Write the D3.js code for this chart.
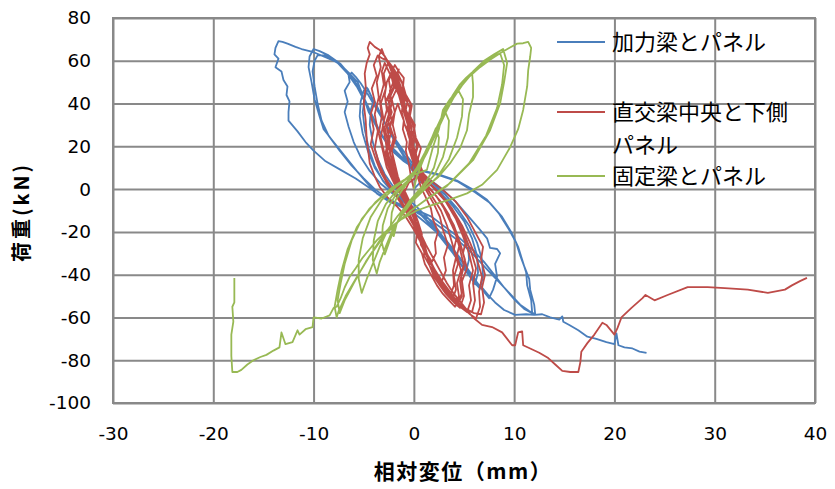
<!DOCTYPE html>
<html>
<head>
<meta charset="utf-8">
<script src="https://cdn.jsdelivr.net/npm/d3@7"></script>
<style>
  body { margin: 0; background: #fff; }
</style>
</head>
<body>
<div id="chart-area"></div>
<script>
// axis ticks
const xTicks = [-30, -20, -10, 0, 10, 20, 30, 40];
const yTicks = [-100, -80, -60, -40, -20, 0, 20, 40, 60, 80];
const seriesNames = ["加力梁とパネル", "直交梁中央と下側パネル", "固定梁とパネル"];

// 加力梁とパネル  [displacement mm, load kN]
const blueData = [
  [0,0],[0.8,4],
  [-0.2,9],[-1.1,16],[-2.0,23],[-2.7,29],[-3.3,35],[-3.8,40],[-4.0,41.5],[-4.3,37],[-4.4,30],[-4.1,22],[-3.6,14],[-2.9,7],[-2.1,1.5],[-1.1,-3],
  [0.1,-7.5],[1.3,-13],[2.4,-19],[3.3,-25],[4.1,-31],[4.8,-36],[5.2,-38.5],[5.5,-33],[5.4,-26],[4.9,-19],[4.1,-12],[3.1,-5],[2.0,0.5],[0.9,5],
  [-0.2,10],[-1.1,16],[-2.0,23],[-2.8,30],[-3.5,36],[-4.0,41],[-4.4,45],[-4.6,47],[-4.9,43],[-5.1,36],[-4.9,28],[-4.5,19],[-3.9,11],[-3.1,4],[-2.1,-1.5],[-0.8,-6],
  [0.6,-11.5],[1.8,-17.5],[2.9,-24],[3.9,-30],[4.8,-36],[5.6,-41],[6.1,-44.5],[6.4,-39],[6.3,-31],[5.8,-23],[5.0,-15],[3.9,-8],[2.6,-1.5],[1.3,4],
  [0.1,9],[-1.0,16],[-2.0,24],[-2.9,31],[-3.7,38],[-4.2,43],[-4.7,47.5],[-5.0,46],[-5.3,41],[-5.4,34],[-5.1,26],[-4.6,18],[-3.9,10],[-3.0,3.5],[-1.9,-1.5],[-0.6,-6.5],
  [0.8,-12],[2.0,-18.5],[3.1,-25],[4.1,-31],[5.0,-37],[5.9,-43],[6.6,-46.5],[6.9,-41],[6.8,-33],[6.3,-25],[5.5,-17],[4.4,-9.5],[3.1,-2.5],[1.8,3],
  [0.5,8],[-0.6,15],[-1.8,23],[-2.9,31],[-3.8,38],[-4.6,44.5],[-5.3,49.5],[-5.8,52.5],[-6.2,54.5],[-6.5,53],[-6.4,50],[-6.9,46],[-6.6,41],[-6.9,36],[-6.5,29],[-6.0,22],[-5.3,15],[-4.4,8.5],[-3.3,2.5],[-2.0,-2.5],[-0.6,-7.5],
  [0.8,-12.5],[2.2,-18.5],[3.4,-25],[4.5,-31.5],[5.4,-37.5],[6.2,-43],[6.9,-47.5],[7.5,-51],[7.9,-47],[8.3,-41],[8.1,-35],[8.6,-30],[8.3,-28],[7.6,-27.5],[7.3,-23],[6.5,-18.5],[5.4,-12.5],[4.1,-5.5],[2.7,0.5],[1.3,5.5],
  [0.3,9],[-1.0,13],[-2.2,18],[-3.2,25],[-4.0,33],[-4.7,40],[-5.4,47],[-6.3,53],[-7.3,58.5],[-8.5,62.5],[-9.4,64.5],[-10.0,65.5],[-10.4,62],[-10.5,57],[-10.2,50],[-9.9,42],[-9.4,34],[-9.0,28],[-8.0,22],[-6.8,15],[-5.7,8.5],[-4.7,3],[-3.7,-2],[-2.4,-6],[-1.1,-8.5],
  [0.3,-11],[1.5,-14],[3.0,-19],[4.4,-24],[5.6,-29],[6.6,-34],[7.6,-39],[8.6,-44],[9.6,-49],[10.6,-54],[11.5,-57],[12.1,-58.5],[12.0,-54],[11.6,-47],[11.5,-42],[11.0,-36],[10.6,-31],[10.2,-25],[9.5,-19],[8.5,-11.5],[7.3,-5],[5.8,0],[4.3,4],[2.4,7],[0.5,9],
  [-1.0,14],[-2.3,19],[-3.3,26],[-4.1,34],[-4.9,41],[-5.7,48],[-6.6,54],[-7.6,59],[-8.8,62.5],[-9.6,62.5],[-9.9,60],[-10.1,55],[-9.9,48],[-9.6,40],[-9.2,32],[-8.5,25],[-7.4,18],[-6.2,11],[-5.0,5],[-3.9,0],[-2.6,-4.5],[-1.2,-7.5],
  [0.4,-10],[1.8,-13],[3.2,-18],[4.6,-23],[5.9,-28.5],[7.0,-34],[8.0,-40],[9.0,-46],[10.0,-51.5],[11.0,-56],[11.8,-58],[11.7,-52],[11.3,-45],[11.2,-39],[10.8,-33],[10.4,-27],[9.7,-20],[8.8,-13],[7.6,-6.5],[6.1,-1.5],[4.4,3.5],[2.5,6.5],[0.3,9],
  [-1.2,15],[-2.5,21],[-3.6,28],[-4.5,36],[-5.1,44],[-5.6,50],[-6.5,54.5],[-7.5,59],[-8.7,61.5],[-10.0,64],[-11.2,65.5],[-11.8,66.5],[-12.6,68],[-13.1,68.8],[-13.5,69.2],
  [-13.8,66],[-13.9,63],[-13.5,61],[-13.8,57],[-13.2,55],[-13.0,51],[-12.6,48],[-12.7,44],[-12.4,41],[-12.5,36],[-12.5,32],[-11.6,27],[-10.8,22],[-10.0,18],[-8.8,13],[-7.3,9],[-5.8,5],[-4.7,1.5],[-3.5,-2.5],[-2.0,-6.5],[-1.2,-8.4],
  [0.2,-12],[1.5,-17],[2.7,-22],[3.8,-28],[4.8,-34],[5.6,-40],[6.3,-44],[6.8,-46],[7.5,-50],[8.1,-53],[9.0,-56.5],[10.1,-58.8],[11.2,-58.5],[12.0,-58.8],[12.8,-58.5],[13.6,-60],[14.5,-61],[14.8,-59.5],[14.9,-62],[15.5,-63.5],[16.4,-66],[17.3,-69],[18.2,-70],[19.2,-71.5],[20.0,-72.5],[20.2,-67.5],[20.4,-73],[21.0,-74],[21.8,-74.5],[22.5,-76],[23.2,-76.6]
];

// 直交梁中央と下側パネル
const redData = [
  [0,0],
  [-0.3,6],[-0.5,12],[-0.8,18],[-0.7,22],[-1.1,28],[-1.0,32],[-1.4,37],[-1.6,40],[-1.9,36],[-2.1,30],[-1.8,24],[-2.2,18],[-1.9,12],[-1.6,6],[-1.2,1],[-0.8,-4],
  [-0.4,-9],[0.1,-14],[0.0,-18],[0.6,-23],[0.9,-27],[1.4,-31],[1.8,-34],[2.2,-30],[2.1,-25],[2.4,-20],[1.9,-14],[1.7,-9],[1.2,-4],[0.7,1],
  [0.3,7],[-0.1,13],[-0.5,19],[-0.4,24],[-0.9,30],[-1.2,36],[-1.1,40],[-1.6,45],[-1.9,48],[-2.3,44],[-2.5,38],[-2.2,32],[-2.6,25],[-2.4,18],[-2.1,11],[-1.7,5],[-1.2,0],[-0.7,-5],
  [-0.3,-11],[0.3,-16],[0.6,-22],[0.9,-27],[1.5,-32],[1.9,-37],[2.4,-41],[2.8,-43],[3.2,-38],[3.0,-32],[3.4,-26],[2.9,-19],[2.6,-13],[2.0,-7],[1.4,-2],[0.8,3],
  [0.5,8],[0.2,14],[-0.2,20],[-0.6,26],[-0.5,31],[-1.0,37],[-1.3,42],[-1.7,47],[-2.0,51],[-2.3,54],[-2.7,50],[-2.9,44],[-2.7,37],[-3.1,30],[-2.8,22],[-2.6,15],[-2.2,8],[-1.6,2],[-1.0,-3],
  [-0.4,-9],[0.1,-15],[0.6,-21],[0.9,-26],[1.5,-32],[2.0,-37],[2.6,-43],[3.1,-47],[3.6,-50],[4.0,-45],[3.9,-38],[4.2,-32],[3.8,-25],[3.3,-17],[2.7,-10],[1.9,-4],[1.1,2],
  [0.6,9],[0.3,15],[-0.1,21],[-0.4,27],[-0.8,33],[-1.2,39],[-1.5,44],[-1.9,49],[-2.3,53],[-2.6,56],[-2.9,59],[-3.2,55],[-3.0,49],[-3.4,42],[-3.2,34],[-3.5,26],[-3.1,18],[-2.7,10],[-2.1,4],[-1.4,-2],[-0.7,-7],
  [0.0,-13],[0.5,-19],[1.0,-25],[1.3,-30],[1.9,-36],[2.5,-42],[3.1,-47],[3.7,-51],[4.3,-54.5],[4.8,-50],[4.6,-43],[5.0,-36],[4.6,-28],[4.1,-20],[3.4,-12],[2.5,-5],[1.5,1],
  [0.8,8],[0.3,13],[0.0,19],[-0.3,25],[-0.6,31],[-0.9,37],[-1.3,43],[-1.6,48],[-2.1,54],[-2.5,59],[-3.0,63],[-3.2,65.5],[-3.5,62],[-3.3,57],[-3.7,50],[-3.5,43],[-3.9,35],[-3.6,27],[-3.9,19],[-3.4,11],[-2.8,5],[-2.0,-1],[-1.2,-6],
  [-0.4,-12],[0.2,-18],[0.8,-24],[1.3,-30],[1.9,-36],[2.6,-42],[3.3,-48],[4.0,-52],[4.6,-55],[5.3,-57.5],[5.7,-52],[5.5,-45],[5.9,-38],[5.5,-30],[4.9,-22],[4.2,-14],[3.2,-6],[2.0,0.5],[1.0,5],
  [0.3,12],[-0.1,18],[-0.4,24],[-0.5,29],[-0.9,35],[-1.2,41],[-1.5,46],[-2.0,52],[-2.4,57],[-2.9,62],[-3.4,65],[-3.9,66.5],[-4.4,68.8],[-4.6,66],[-4.4,63],[-4.7,59],[-4.9,54],[-4.8,48],[-5.0,40],[-4.8,32],[-4.7,23],[-4.5,16],[-4.4,12],[-3.9,6],[-3.4,1],[-2.6,-4],[-1.7,-8],
  [-0.8,-13],[0.0,-19],[0.7,-25],[1.3,-31],[2.0,-37],[2.8,-43],[3.6,-48],[4.4,-53],[5.0,-56],[5.6,-58.5],[6.2,-60.5],[6.6,-55],[6.5,-48],[6.8,-41],[6.3,-33],[5.6,-25],[4.8,-17],[3.8,-9],[2.6,-2],[1.3,4],
  [0.6,10],[0.2,16],[0.3,21],[-0.2,27],[-0.5,33],[-0.4,38],[-0.9,43],[-1.3,48],[-1.7,53],[-2.2,57],[-2.6,58.5],[-3.0,54],[-2.8,47],[-3.3,40],[-3.0,32],[-3.3,24],[-2.9,16],[-2.4,9],[-1.8,3],[-1.1,-3],
  [-0.5,-9],[0.2,-15],[0.4,-20],[0.9,-26],[1.5,-32],[2.1,-38],[2.9,-44],[3.5,-49],[4.2,-53],[5.0,-56],[5.8,-57.5],[6.1,-52],[5.9,-44],[6.2,-37],[5.7,-29],[5.0,-21],[4.3,-13],[3.3,-6],[2.1,0],[1.0,5],
  [0.4,11],[0.0,17],[-0.3,23],[-0.2,29],[-0.7,35],[-1.0,41],[-1.5,46],[-2.0,50.5],[-2.4,46],[-2.2,40],[-2.6,33],[-2.3,26],[-2.7,19],[-2.3,12],[-1.9,6],[-1.3,0],[-0.7,-5],
  [0.0,-11],[0.3,-17],[0.9,-23],[1.2,-29],[1.8,-35],[2.4,-41],[3.1,-46],[3.8,-50],[4.5,-52.5],[4.9,-47],[4.7,-40],[5.1,-33],[4.6,-25],[4.0,-17],[3.2,-10],[2.2,-3],[1.2,2],
  [0.2,6],[-0.2,10],[0.1,14],[-0.4,19],[-0.2,23],[-0.7,28],[-0.5,33],[-1.0,38],[-0.9,42],[-1.4,47],[-1.8,52],[-2.1,55],[-2.5,51],[-2.3,46],[-2.8,41],[-2.5,35],[-2.9,29],[-2.6,22],[-2.9,15],[-2.4,9],[-2.0,3],[-1.4,-2],[-0.9,-6],
  [-0.5,-11],[0.0,-16],[0.3,-21],[0.2,-25],[0.8,-30],[1.1,-35],[1.7,-40],[2.3,-45],[2.9,-49],[3.5,-52],[4.1,-55],[4.5,-50],[4.3,-44],[4.7,-38],[4.3,-31],[4.6,-25],[3.9,-18],[3.5,-12],[2.7,-6],[1.8,-1],[0.9,4],
  [0.5,10],[0.1,15],[0.4,20],[-0.1,25],[0.1,30],[-0.5,35],[-0.3,40],[-0.9,45],[-1.2,50],[-1.6,54],[-1.5,56],[-1.9,52],[-1.7,47],[-2.2,42],[-1.9,36],[-2.4,30],[-2.0,24],[-2.4,17],[-1.9,11],[-1.6,5],[-1.0,0],[-0.5,-5],
  [0.0,-10],[0.4,-15],[0.8,-21],[0.7,-26],[1.3,-31],[1.6,-36],[2.2,-41],[2.8,-46],[3.4,-50],[4.0,-53],[4.6,-55.5],[5.0,-50],[4.8,-43],[5.3,-37],[4.9,-30],[5.2,-24],[4.5,-17],[4.0,-11],[3.1,-5],[2.1,0],[1.1,5],
  [0.8,9],[0.4,14],[0.7,19],[0.2,24],[0.0,29],[-0.4,34],[-0.2,39],[-0.8,44],[-1.1,49],[-1.6,53],[-2.1,57],[-2.6,60],[-3.1,61],[-3.6,62.5],[-4.0,58],[-3.7,53],[-4.2,47],[-3.9,41],[-4.3,35],[-4.0,28],[-4.3,21],[-3.8,14],[-3.3,8],[-2.6,2],[-1.8,-3],[-1.1,-8],
  [-0.5,-13],[0.1,-18],[0.5,-23],[1.0,-29],[1.6,-34],[2.2,-39],[2.9,-44],[3.6,-49],[4.4,-53],[5.2,-56],[6.0,-58],[6.7,-58.5],[7.0,-53],[6.8,-46],[7.1,-40],[6.7,-33],[6.9,-27],[6.1,-20],[5.3,-13],[4.2,-6],[2.8,0],[1.4,5],
  [0.2,11],[-0.3,17],[0.0,22],[-0.5,27],[-0.3,32],[-0.8,37],[-0.6,42],[-1.1,47],[-1.0,52],[-1.5,55],[-1.9,58],[-2.3,54],[-2.0,48],[-2.6,42],[-2.2,36],[-2.7,29],[-2.4,22],[-2.8,15],[-2.3,9],[-1.8,3],[-1.2,-2],[-0.6,-7],
  [-0.1,-12],[0.3,-17],[0.7,-22],[1.1,-27],[1.0,-31],[1.6,-36],[2.0,-41],[2.6,-45],[3.2,-49],[3.8,-52],[4.2,-47],[4.0,-41],[4.4,-35],[4.0,-28],[4.3,-22],[3.6,-15],[3.0,-9],[2.2,-3],[1.2,2],[0.4,6],
  [-0.5,3],[-1.0,-2],[-0.5,-8],[0.1,-14],[0.6,-20],[1.2,-26],[1.9,-32],[2.6,-38],[3.3,-44],[4.0,-49],[4.7,-53],[5.3,-56.5],[5.9,-60],
  [6.8,-63.5],[7.8,-64.5],[8.8,-67],[9.8,-73],[10.1,-73],[10.4,-67],[10.8,-66.5],[10.9,-73],[11.6,-74.5],[12.5,-76.5],[13.4,-79],[14.1,-82],[14.8,-85],[15.6,-85.5],[16.4,-85.5],[16.6,-81],[16.7,-76],
  [17.3,-72],[18.0,-68],[18.8,-62.5],[19.2,-63.5],[20.0,-68],[20.3,-65],[20.7,-60],[21.7,-55.5],[22.8,-51],[23.1,-49.5],[24.0,-52],[25.3,-49.5],[27.3,-45.8],[29.3,-45.8],[31.0,-46.3],[33.3,-47],[35.3,-48.5],[37.0,-47],[37.7,-45],[38.5,-43],[39.2,-41.5]
];

// 固定梁とパネル
const greenData = [
  [0,0],
  [0.3,6],[0.8,12],[1.3,18],[1.8,24],[2.2,28.5],[2.5,24],[2.4,17],[2.0,10],[1.3,4],[0.4,-1],[-0.5,-6],[-1.2,-11],[-1.7,-16],[-2.0,-22],[-2.3,-17],[-2.2,-11],[-1.8,-5],[-1.1,0],[-0.3,5],
  [0.5,10],[1.1,16],[1.7,23],[2.3,29],[2.8,34],[3.1,36.5],[3.5,32],[3.4,24],[2.9,15],[2.1,7],[1.0,1],[-0.2,-5],[-1.1,-11],[-1.8,-17],[-2.4,-24],[-2.9,-30.5],[-3.2,-25],[-3.1,-17],[-2.6,-9],[-1.8,-2.5],[-0.8,3],
  [0.2,9],[1.0,15],[1.7,22],[2.4,29],[3.0,35],[3.6,40],[4.1,44],[4.4,46.5],[4.9,42],[4.8,34],[4.3,24],[3.5,14],[2.4,6],[1.1,0],[-0.2,-6],[-1.3,-13],[-2.2,-20],[-2.9,-28],[-3.4,-34],[-3.7,-39.5],[-4.1,-33],[-4.0,-24],[-3.6,-15],[-2.8,-7],[-1.8,-1],[-0.6,4],
  [0.3,10],[1.1,17],[1.8,24],[2.5,31],[3.2,38],[3.9,44],[4.6,49],[5.2,52],[5.8,54.5],[5.9,49],[5.9,43],[5.5,35],[5.3,27.5],[4.6,19],[3.6,12],[2.4,5.5],[1.0,0],[-0.4,-6],[-1.6,-12.5],[-2.6,-19],[-3.4,-27],[-4.1,-35],[-4.7,-42],[-5.2,-48.5],[-5.5,-42],[-5.5,-33],[-5.1,-23],[-4.3,-13],[-3.2,-5],[-1.8,1],[-0.4,6],
  [0.6,11],[1.4,18],[2.1,25],[2.8,32],[3.4,38],[4.1,44],[4.9,49.5],[5.9,55],[7.0,60],[8.0,63],[8.9,65.5],[9.3,59],[9.0,50],[8.6,40],[7.6,27.5],[5.9,13.5],[3.6,2.8],[1.5,-4],[0.0,-9],[-1.5,-15],[-3.0,-22],[-4.5,-32],[-5.8,-42],[-6.8,-50],[-7.5,-57],[-7.7,-60],
  [-7.9,-55],[-7.6,-47],[-7.2,-38],[-6.6,-28],[-5.7,-18],[-4.4,-9],[-2.8,-2],[-1.0,4],
  [0.5,10],[1.3,17],[2.0,24],[2.7,31],[3.3,37],[4.0,43],[4.8,48.5],[5.7,53.5],[6.7,58],[7.7,61.5],[8.6,63.5],[9.0,58],[8.8,49],[8.3,38],[7.2,25],[5.5,12],[3.3,1.5],[1.2,-5],[-0.4,-10.5],[-1.9,-16.5],[-3.4,-24],[-4.8,-34],[-6.0,-44],[-6.9,-52],[-7.4,-58],
  [-7.6,-52],[-7.3,-44],[-6.9,-35],[-6.2,-24],[-5.2,-14],[-3.8,-6],[-2.1,1],[-0.4,6],
  [1.3,9],[1.9,19.6],[2.5,28],[2.9,37],[3.6,42],[4.3,46],[5.4,52],[6.6,57],[7.6,60.5],[8.6,63.5],[9.5,66],[10.3,68],[10.9,68.2],[11.4,68.8],[11.7,66],[11.6,62],[11.4,55.5],[11.3,48],[10.9,37],[10.4,28],[9.6,19.6],[8.3,9],[6.8,2],[5.3,-2],[3.5,-5],[1.8,-7.5],[0.3,-10],
  [-1.4,-14.5],[-2.6,-19],[-3.7,-24],[-4.4,-28],[-5.1,-32],[-5.8,-37],[-6.4,-41],[-6.9,-46],[-7.3,-51],[-7.7,-55],[-8.0,-55.5],[-8.4,-59],[-9.2,-60.5],[-10.0,-60],[-10.1,-64.5],[-10.8,-65.5],[-11.4,-68],[-11.6,-66],[-12.1,-71.5],[-12.8,-72.5],[-13.2,-67],[-13.4,-74],
  [-14.0,-75.5],[-14.7,-77.5],[-15.3,-78.5],[-16.0,-80],[-16.6,-82],[-17.2,-84.5],[-17.6,-85.5],[-18.1,-85.5],[-18.2,-78],[-18.2,-68],[-18.0,-62],[-18.1,-55],[-17.9,-53],[-17.9,-41.5]
];

const seriesColors = ["#4a7ebb", "#be4b48", "#98b954"];
const allSeries = [blueData, redData, greenData];

let svg = d3.select("#chart-area").append("svg").attr("width", 835).attr("height", 489);

let x = d3.scaleLinear().domain([-30, 40]).range([113, 815]);
let y = d3.scaleLinear().domain([-100, 80]).range([403, 18]);

// grid + tick labels through the axes
let xAxis = svg.append("g")
    .attr("transform", "translate(0,403)")
    .call(d3.axisBottom(x).tickValues(xTicks).tickSize(-385).tickPadding(24).tickFormat(d => String(d)));

let yAxis = svg.append("g")
    .attr("transform", "translate(113,0)")
    .call(d3.axisLeft(y).tickValues(yTicks).tickSize(-702).tickPadding(22).tickFormat(d => String(d)));

[xAxis, yAxis].forEach(g => {
  g.select(".domain").remove();
  g.selectAll(".tick line").attr("stroke", "#898989").attr("stroke-width", 2);
  g.selectAll(".tick text")
    .attr("fill", "#000")
    .style("font-family", "'DejaVu Sans', sans-serif")
    .style("font-size", "18.5px");
});

svg.append("rect")
    .attr("x", 113).attr("y", 18).attr("width", 702).attr("height", 385)
    .attr("fill", "none").attr("stroke", "#898989").attr("stroke-width", 2);

// series
let line = d3.line().x(d => x(d[0])).y(d => y(d[1]));

svg.append("g").selectAll("path")
    .data(allSeries)
    .enter()
    .append("path")
      .attr("d", line)
      .attr("fill", "none")
      .attr("stroke", (d, i) => seriesColors[i])
      .attr("stroke-width", 1.8)
      .attr("stroke-linejoin", "round");

// axis titles
svg.append("text")
    .attr("x", 463).attr("y", 479)
    .attr("text-anchor", "middle")
    .style("font-family", "'Noto Sans CJK JP', sans-serif")
    .style("font-weight", "bold")
    .style("font-size", "21px")
    .style("letter-spacing", "1.5px")
    .text("相対変位（mm）");

svg.append("text")
    .attr("transform", "translate(29,212) rotate(-90)")
    .attr("text-anchor", "middle")
    .style("font-family", "'Noto Sans CJK JP', sans-serif")
    .style("font-weight", "bold")
    .style("font-size", "20px")
    .style("letter-spacing", "3px")
    .text("荷重(kN)");

// legend
let legendY = [42, 112, 176];
let legend = svg.append("g").selectAll("g")
    .data(seriesNames)
    .enter()
    .append("g")
      .attr("transform", (d, i) => "translate(0," + legendY[i] + ")");

legend.append("line")
    .attr("x1", 557).attr("x2", 605)
    .attr("stroke", (d, i) => seriesColors[i])
    .attr("stroke-width", 2);

legend.append("text")
    .attr("x", 612)
    .attr("dy", "0.35em")
    .style("font-family", "'Noto Sans CJK JP', sans-serif")
    .style("font-size", "22px")
    .each(function(d) {
      let t = d3.select(this);
      if (d.length > 8) {
        t.append("tspan").attr("x", 612).text(d.slice(0, 8));
        t.append("tspan").attr("x", 612).attr("dy", "1.5em").text(d.slice(8));
      } else {
        t.text(d);
      }
    });
</script>
</body>
</html>
